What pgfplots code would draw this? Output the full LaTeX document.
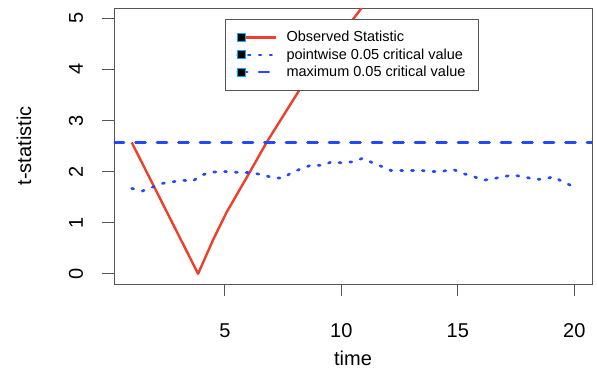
\documentclass[border=0pt]{standalone}
\usepackage{pgfplots}
\pgfplotsset{compat=1.18}
\usepackage{fontspec}
\setmainfont{Liberation Sans}

\definecolor{obsred}{RGB}{236,64,42}
\definecolor{critblue}{RGB}{38,72,250}
\definecolor{framegray}{RGB}{85,85,85}

\begin{document}
\begin{tikzpicture}
\begin{axis}[
  at={(0pt,0pt)}, anchor=south west,
  scale only axis, width=478pt, height=276pt,
  xmin=0.24, xmax=20.76, ymin=-0.2, ymax=5.2,
  xtick={5,10,15,20}, ytick={0,1,2,3,4,5},
  axis line style={framegray, line width=0.9pt},
  every tick/.style={framegray, line width=0.9pt},
  tick align=outside, major tick length=12pt,
  xtick pos=bottom, ytick pos=left,
  /pgf/number format/assume math mode=true,
  tick label style={font=\fontsize{20}{24}\selectfont},
  xticklabel style={anchor=center, yshift=-35pt},
  yticklabel style={rotate=90, anchor=center, yshift=26pt},
  xlabel={time}, ylabel={t-statistic},
  every axis x label/.style={at={(axis description cs:0.5,0)}, anchor=center,
    yshift=-74pt, font=\fontsize{20}{24}\selectfont},
  every axis y label/.style={at={(axis description cs:0,0.5)}, anchor=center,
    rotate=90, yshift=90pt, font=\fontsize{20}{24}\selectfont},
  legend cell align=left,
  legend style={at={(rel axis cs:0.232,0.960)}, anchor=north west,
    draw=framegray, line width=0.9pt, fill=white,
    font=\fontsize{14.5}{17}\selectfont, row sep=1.3pt, column sep=7pt,
    inner xsep=11pt, inner ysep=10pt},
  legend image code/.code={
    \draw[#1, line width=2.2pt] (0pt,0pt) -- (39pt,0pt);
    \draw[cyan, fill=black, line width=0.6pt, solid] (0pt,-4pt) rectangle (8pt,4pt);
  },
]
% observed t-statistic (absolute value)
\addplot[obsred, line width=2.4pt, line join=round] coordinates {
  (1,2.57) (3.85,0) (4.5,0.67) (5.07,1.2) (6.07,1.99) (6.79,2.57)
  (8.22,3.61) (10.87,5.2)
};
\addlegendentry{Observed Statistic}
% pointwise critical values
\addplot[critblue, line width=2.7pt, line cap=round, dash pattern=on 2pt off 8.8pt] coordinates {
  (1.00,1.67) (1.46,1.62) (1.92,1.70) (2.34,1.77) (2.77,1.80) (3.21,1.83)
  (3.61,1.81) (4.00,1.93) (4.43,1.99) (5.00,2.00) (5.36,1.99) (5.72,1.98)
  (6.15,1.98) (6.65,1.93) (7.08,1.88) (7.48,1.87) (7.87,1.98) (8.30,2.06)
  (8.73,2.13) (9.16,2.12) (9.59,2.19) (10.02,2.17) (10.46,2.19) (10.92,2.26)
  (11.35,2.17) (11.73,2.10) (12.13,2.02) (12.59,2.02) (13.02,2.02) (13.45,2.02)
  (13.93,2.00) (14.38,2.01) (14.81,2.04) (15.24,1.96) (15.63,1.91) (16.10,1.83)
  (16.53,1.86) (16.93,1.90) (17.36,1.93) (17.82,1.90) (18.28,1.85) (18.71,1.85)
  (19.11,1.90) (19.54,1.79) (19.90,1.72) (20.00,1.70)
};
\addlegendentry{pointwise 0.05 critical value}
% maximum critical value
\addplot[critblue, line width=2.7pt, line cap=round, dash pattern=on 10pt off 11.5pt] coordinates {
  (0.24,2.57) (20.76,2.57)
};
\addlegendentry{maximum 0.05 critical value}
\end{axis}
\pgfresetboundingbox
\path[use as bounding box] (-114pt,-86pt) rectangle (483pt,284pt);
\end{tikzpicture}
\end{document}
